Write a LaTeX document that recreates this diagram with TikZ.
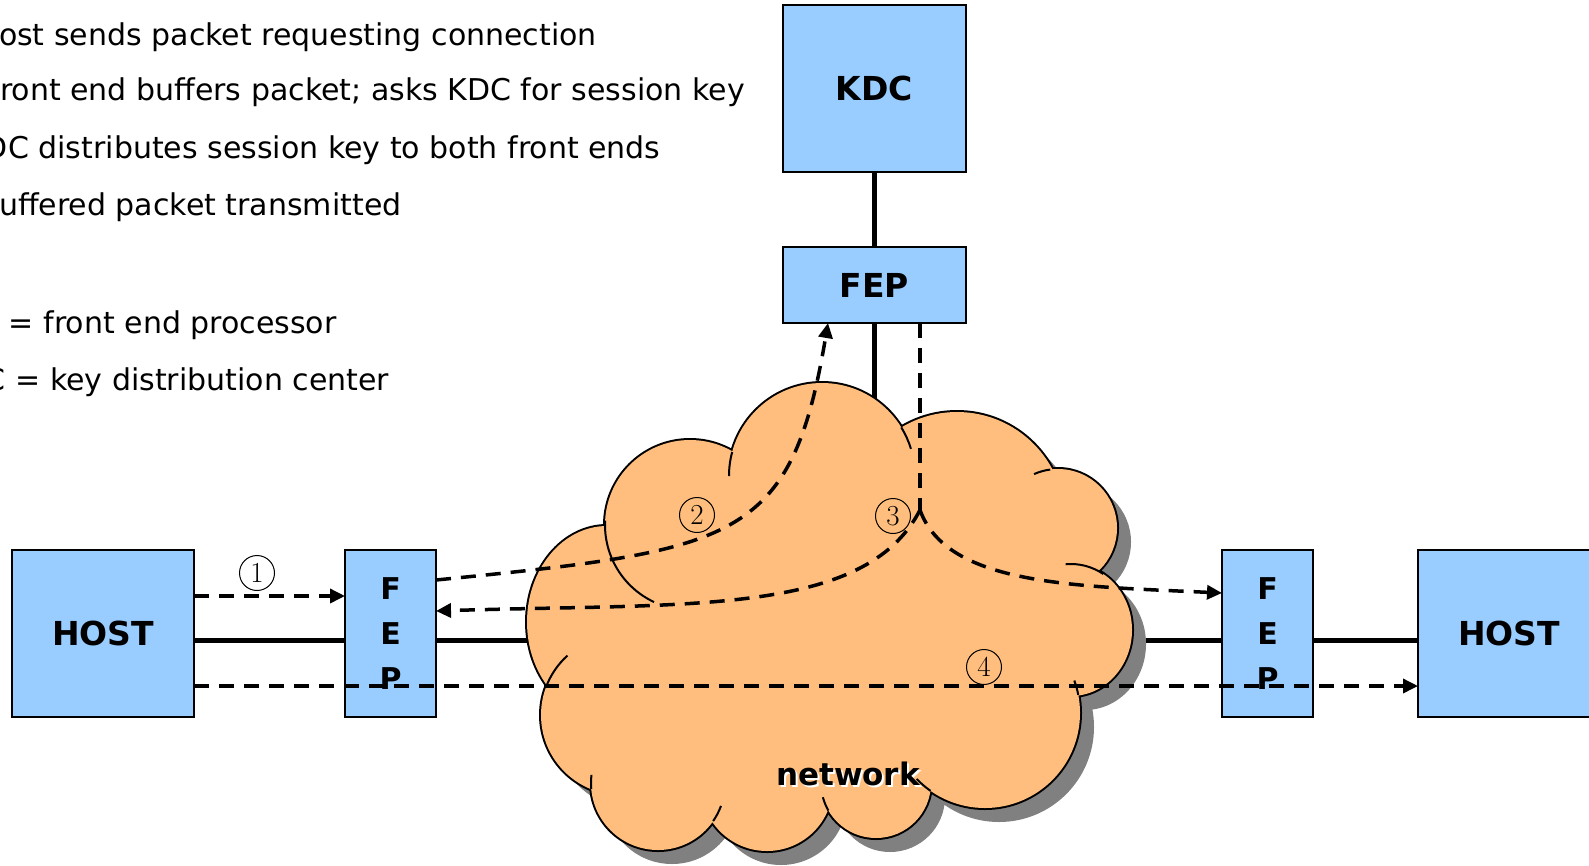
\documentclass[tikz,border=0pt]{standalone}
\usepackage{fontspec}
\newfontfamily\dejavu{DejaVu Sans}
\usetikzlibrary{arrows.meta}
\definecolor{boxblue}{RGB}{153,204,255}
\definecolor{cloudfill}{RGB}{255,190,125}
\definecolor{shadowgray}{RGB}{128,128,128}
\newcommand\labelfont{\dejavu\bfseries\fontsize{33}{40}\selectfont}
\newcommand\netfont{\dejavu\bfseries\fontsize{31}{38}\selectfont}
\newcommand\cloudcircles{(822,476) circle[radius=93] (957,520) circle[radius=108] (1058,528) circle[radius=59] (1071,630) ellipse[x radius=61,y radius=66] (985,713) circle[radius=95] (876,783) circle[radius=55] (767,785) circle[radius=66] (658,783) circle[radius=67] (621,715) circle[radius=80] (607,622) ellipse[x radius=80,y radius=96] (690,525) circle[radius=85]}
\newcommand\cloudcore{(690,525) -- (822,476) -- (957,520) -- (1058,528) -- (1071,630) -- (985,713) -- (876,783) -- (767,785) -- (658,783) -- (621,715) -- (607,622) -- cycle}
\begin{document}
\begin{tikzpicture}[x=1pt,y=-1pt,
  box/.style={draw=black, line width=1.5pt, fill=boxblue, inner sep=0pt, outer sep=0pt, font=\labelfont},
  fepbox/.style={box, minimum width=91pt, minimum height=167pt, align=center, font=\dejavu\bfseries\fontsize{30}{45}\selectfont},
  hostbox/.style={box, minimum width=182pt, minimum height=167pt},
  bodytxt/.style={inner sep=0pt, outer sep=0pt, font=\dejavu\fontsize{30}{36}\selectfont, anchor=base west},
  solidline/.style={line width=4.5pt},
  dashline/.style={line width=3.5pt, dash pattern=on 15pt off 10pt},
  dasharr/.style={dashline, -{Triangle[length=15pt,width=14pt]}},
  numc/.style={circle, draw, line width=1pt, minimum size=35pt, inner sep=0pt, font=\fontsize{29}{29}\selectfont},
  cloudline/.style={line width=2pt}]
\fill[white] (0,0) rectangle (1589,865);
\useasboundingbox (0,0) rectangle (1589,865);

% explanatory text
\node[bodytxt] (t1) at (-1,45) {ost sends packet requesting connection};
\node[bodytxt] (t2) at (0,100) {ront end buffers packet; asks KDC for session key};
\node[bodytxt] (t3) at (-15,158) {DC distributes session key to both front ends};
\node[bodytxt] (t4) at (-1,215) {uffered packet transmitted};
\node[bodytxt] (t5) at (9,333) {= front end processor};
\node[bodytxt] (t6) at (-15,390) {C = key distribution center};

% boxes
\node[hostbox] (hostL) at (103,633.5) {HOST};
\node[fepbox] (fepL) at (390.5,633.5) {F\\E\\P};
\node[fepbox] (fepR) at (1267.5,633.5) {F\\E\\P};
\node[hostbox] (hostR) at (1509,633.5) {HOST};
\node[box, minimum width=183pt, minimum height=167pt] (kdc) at (874.5,88.5) {KDC};
\node[box, minimum width=183pt, minimum height=76pt] (fepT) at (874.5,285) {FEP};
\coordinate (nettop) at (874.5,520);
\coordinate (j3) at (920,510);

% solid links
\draw[solidline] (kdc.south) -- (fepT.north);
\draw[solidline] (fepT.south) -- (nettop);
\draw[solidline] ([yshift=-7pt]hostL.east) -- ([yshift=-7pt]fepL.west);
\draw[solidline] ([yshift=-7pt]fepL.east) -- ([yshift=-7pt]fepR.west);
\draw[solidline] ([yshift=-7pt]fepR.east) -- ([yshift=-7pt]hostR.west);

% cloud
\fill[shadowgray, shift={(14,14)}] \cloudcircles;
\fill[shadowgray, shift={(14,14)}] \cloudcore;
\draw[line width=4pt] \cloudcircles;
\fill[cloudfill] \cloudcircles;
\fill[cloudfill] \cloudcore;
\draw[cloudline]
 (822,476) ++(195:93) arc[start angle=195,end angle=180,radius=93]
 (822,476) ++(-31.5:93) arc[start angle=-31.5,end angle=-17,radius=93]
 (1058,528) ++(-97.6:59) arc[start angle=-97.6,end angle=-114,radius=59]
 (1071,630) ++(-58:61 and 66) arc[start angle=-58,end angle=-95,x radius=61,y radius=66]
 (985,713) ++(-11:95) arc[start angle=-11,end angle=-20,radius=95]
 (985,713) ++(125:95) arc[start angle=125,end angle=136,radius=95]
 (876,783) ++(150:55) arc[start angle=150,end angle=165,radius=55]
 (658,783) ++(34.6:67) arc[start angle=34.6,end angle=20,radius=67]
 (658,783) ++(175:67) arc[start angle=175,end angle=187,radius=67]
 (621,715) ++(200:80) arc[start angle=200,end angle=228,radius=80]
 (690,525) ++(183:85) arc[start angle=183,end angle=115,radius=85];
\node[font=\netfont, text=white, anchor=base, inner sep=0pt] at (850,787) {network};
\node[font=\netfont, anchor=base, inner sep=0pt] (net) at (848,785) {network};

% dashed message flows
\draw[dasharr] ([yshift=37.5pt]hostL.east) -- ([yshift=37.5pt]fepL.west);
\draw[dasharr] ([yshift=53.5pt]fepL.east) .. controls (736,550) and (791,543) .. ([xshift=-46.5pt]fepT.south);
\draw[dashline] ([xshift=45.5pt]fepT.south) -- (j3);
\draw[dasharr] (j3) .. controls (865,617) and (686,603) .. ([yshift=22.5pt]fepL.east);
\draw[dasharr] (j3) .. controls (947,585) and (1072,586) .. ([yshift=40.5pt]fepR.west);
\draw[dasharr] ([yshift=-52.5pt]hostL.east) -- ([yshift=-52.5pt]hostR.west);

% step numbers
\node[numc] (n1) at (257,573) {1};
\node[numc] (n2) at (697,515) {2};
\node[numc] (n3) at (893,516) {3};
\node[numc] (n4) at (984,667) {4};
\end{tikzpicture}
\end{document}
